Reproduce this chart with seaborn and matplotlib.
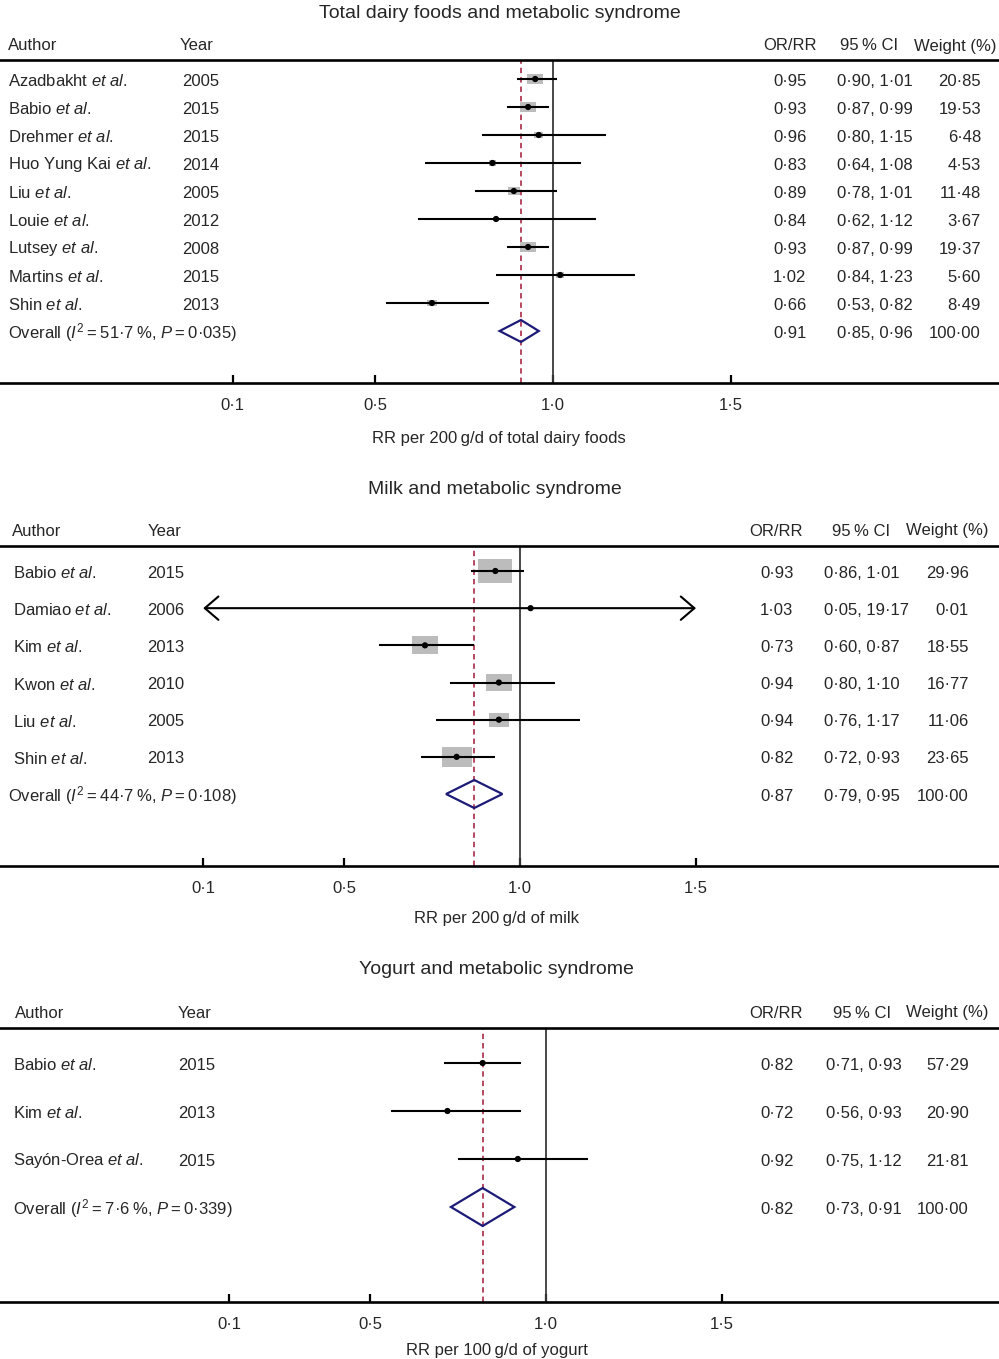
import numpy as np
import matplotlib
matplotlib.use("Agg")
import matplotlib.pyplot as plt
from matplotlib.transforms import blended_transform_factory
import seaborn as sns

# ---------------- data ----------------
p1_title = "Total dairy foods and metabolic syndrome"
p1_xlabel = "RR per 200\u2009g/d of total dairy foods"
p1_authors = ["Azadbakht", "Babio", "Drehmer", "Huo Yung Kai", "Liu", "Louie",
              "Lutsey", "Martins", "Shin"]
p1_years = ["2005", "2015", "2015", "2014", "2005", "2012", "2008", "2015", "2013"]
p1_rr = [0.95, 0.93, 0.96, 0.83, 0.89, 0.84, 0.93, 1.02, 0.66]
p1_lo = [0.90, 0.87, 0.80, 0.64, 0.78, 0.62, 0.87, 0.84, 0.53]
p1_hi = [1.01, 0.99, 1.15, 1.08, 1.01, 1.12, 0.99, 1.23, 0.82]
p1_w = [20.85, 19.53, 6.48, 4.53, 11.48, 3.67, 19.37, 5.60, 8.49]
p1_overall = [0.91, 0.85, 0.96]
p1_i2 = "51·7"
p1_p = "0·035"

p2_title = "Milk and metabolic syndrome"
p2_xlabel = "RR per 200\u2009g/d of milk"
p2_authors = ["Babio", "Damiao", "Kim", "Kwon", "Liu", "Shin"]
p2_years = ["2015", "2006", "2013", "2010", "2005", "2013"]
p2_rr = [0.93, 1.03, 0.73, 0.94, 0.94, 0.82]
p2_lo = [0.86, 0.05, 0.60, 0.80, 0.76, 0.72]
p2_hi = [1.01, 19.17, 0.87, 1.10, 1.17, 0.93]
p2_w = [29.96, 0.01, 18.55, 16.77, 11.06, 23.65]
p2_overall = [0.87, 0.79, 0.95]
p2_i2 = "44·7"
p2_p = "0·108"

p3_title = "Yogurt and metabolic syndrome"
p3_xlabel = "RR per 100\u2009g/d of yogurt"
p3_authors = ["Babio", "Kim", "Sayón-Orea"]
p3_years = ["2015", "2013", "2015"]
p3_rr = [0.82, 0.72, 0.92]
p3_lo = [0.71, 0.56, 0.75]
p3_hi = [0.93, 0.93, 1.12]
p3_w = [57.29, 20.90, 21.81]
p3_overall = [0.82, 0.73, 0.91]
p3_i2 = "7·6"
p3_p = "0·339"

tick_vals = [0.1, 0.5, 1.0, 1.5]
tick_labels = ["0·1", "0·5", "1·0", "1·5"]
headers = ["Author", "Year", "OR/RR", "95\u2009% CI", "Weight (%)"]

# ---------------- style ----------------
sns.set_theme(style="white")
plt.rcParams["font.family"] = ["Liberation Sans", "DejaVu Sans"]
plt.rcParams["mathtext.fontset"] = "custom"
plt.rcParams["mathtext.rm"] = "Liberation Sans"
plt.rcParams["mathtext.it"] = "Liberation Sans:italic"
plt.rcParams["mathtext.bf"] = "Liberation Sans:bold"

W, H = 999, 1359
fig = plt.figure(figsize=(W / 100, H / 100), dpi=100)
FS = 12
DY = 2.0  # small downward nudge of text (pixels)

RED = "#b03a55"
NAVY = "#1c1c78"
GREY = "#bcbcbc"

rect_marker = [(-1, -0.68), (1, -0.68), (1, 0.68), (-1, 0.68), (-1, -0.68)]
THIN = "\u2009"


def fmt(v):
    return f"{v:.2f}".replace(".", "·")


def draw_panel(d, L):
    top, bot = L["top"], L["bot"]
    ax = fig.add_axes([0, 1 - bot / H, 1, (bot - top) / H])
    one, s = L["one_px"], L["px_per_unit"]
    ax.set_xlim(1 - one / s, 1 + (W - one) / s)
    ax.set_ylim(bot, top)
    n = len(d["rr"])
    rows = L["first"] + np.arange(n + 1) * L["step"]
    yr = rows[:n]
    yo = rows[n]

    ax.axvline(1.0, color="#3a3a3a", lw=1.3, zorder=1)
    ax.axvline(d["overall"][0], color=RED, lw=1.3, ls=(0, (3, 2.2)), zorder=1)

    # squares (weights)
    if L["sq"] > 0:
        sns.scatterplot(x=d["rr"], y=yr, ax=ax, marker=rect_marker,
                        s=np.array(d["w"]) * L["sq"], color=GREY,
                        edgecolor="none", linewidth=0, zorder=2, legend=False)

    clip_lo, clip_hi = tick_vals[0], tick_vals[-1]
    for lo, hi, y in zip(d["lo"], d["hi"], yr):
        if lo < clip_lo or hi > clip_hi:
            ax.annotate("", xy=(max(lo, clip_lo), y), xytext=(min(hi, clip_hi), y),
                        arrowprops=dict(arrowstyle="<->,head_length=0.7,head_width=0.6",
                                        lw=1.5, color="black", mutation_scale=14,
                                        shrinkA=0, shrinkB=0), zorder=3)
        else:
            ax.hlines(y, lo, hi, color="black", lw=1.5, zorder=3)

    sns.scatterplot(x=d["rr"], y=yr, ax=ax, color="black", s=20,
                    edgecolor="none", zorder=4, legend=False)

    # diamond
    e, lo, hi = d["overall"]
    h = L["dh"]
    ax.fill([lo, e, hi, e, lo], [yo, yo - h, yo, yo + h, yo],
            facecolor="none", edgecolor=NAVY, lw=1.6, zorder=4)

    tr = blended_transform_factory(ax.transAxes, ax.transData)
    c = L["cols"]
    for i in range(n):
        y = yr[i] + DY
        ax.text(c["author"] / W, y, d["authors"][i] + r" $\mathit{et\ al.}$",
                transform=tr, ha="left", va="center", fontsize=FS)
        ax.text(c["year"] / W, y, d["years"][i], transform=tr, ha="left",
                va="center", fontsize=FS)
        ax.text(c["or"] / W, y, fmt(d["rr"][i]), transform=tr, ha="left",
                va="center", fontsize=FS)
        ax.text(c["ci"] / W, y, fmt(d["lo"][i]) + ", " + fmt(d["hi"][i]),
                transform=tr, ha="left", va="center", fontsize=FS)
        ax.text(c["w"] / W, y, fmt(d["w"][i]), transform=tr, ha="right",
                va="center", fontsize=FS)
    yt = yo + DY
    overall_lbl = (r"Overall ($\mathit{I}^{2}$" + THIN + "=" + THIN + d["i2"] + THIN + "%, "
                   + r"$\mathit{P}$" + THIN + "=" + THIN + d["p"] + ")")
    ax.text(c["overall"] / W, yt, overall_lbl, transform=tr, ha="left",
            va="center", fontsize=FS)
    ax.text(c["or"] / W, yt, fmt(e), transform=tr, ha="left", va="center", fontsize=FS)
    ax.text(c["ci"] / W, yt, fmt(lo) + ", " + fmt(hi), transform=tr, ha="left",
            va="center", fontsize=FS)
    ax.text(c["w"] / W, yt, fmt(100.0), transform=tr, ha="right", va="center", fontsize=FS)

    # header
    hy = L["head_y"] + DY
    hc = L["hcols"]
    has = ["left", "left", "center", "center", "right"]
    for txt, xp, ha in zip(headers, hc, has):
        ax.text(xp / W, hy, txt, transform=tr, ha=ha, va="center", fontsize=FS)

    # axes styling
    for sp in ["left", "right"]:
        ax.spines[sp].set_visible(False)
    for sp in ["top", "bottom"]:
        ax.spines[sp].set_linewidth(1.9)
        ax.spines[sp].set_color("black")
    ax.set_yticks([])
    ax.set_xticks(tick_vals)
    ax.set_xticklabels(tick_labels)
    ax.tick_params(axis="x", direction="in", length=6, width=1.6, color="black",
                   labelsize=FS, pad=11, bottom=True, top=False)
    ax.grid(False)

    fig.text(L["title_x"] / W, 1 - (L["title_y"] + DY) / H, d["title"], ha="center",
             va="center", fontsize=14)
    fig.text(L["xl_x"] / W, 1 - (L["xl_y"] + DY) / H, d["xlabel"], ha="center",
             va="center", fontsize=FS)


P1 = dict(title=p1_title, xlabel=p1_xlabel, authors=p1_authors, years=p1_years,
          rr=p1_rr, lo=p1_lo, hi=p1_hi, w=p1_w, overall=p1_overall, i2=p1_i2, p=p1_p)
P2 = dict(title=p2_title, xlabel=p2_xlabel, authors=p2_authors, years=p2_years,
          rr=p2_rr, lo=p2_lo, hi=p2_hi, w=p2_w, overall=p2_overall, i2=p2_i2, p=p2_p)
P3 = dict(title=p3_title, xlabel=p3_xlabel, authors=p3_authors, years=p3_years,
          rr=p3_rr, lo=p3_lo, hi=p3_hi, w=p3_w, overall=p3_overall, i2=p3_i2, p=p3_p)

L1 = dict(top=60, bot=383, one_px=553, px_per_unit=356, first=79, step=28, dh=11,
          sq=6.4, head_y=44, title_x=500, title_y=11, xl_x=499, xl_y=436,
          cols={"author": 8, "year": 182, "overall": 8, "or": 773, "ci": 837, "w": 981},
          hcols=[8, 180, 790, 869, 997])
L2 = dict(top=546, bot=866, one_px=520, px_per_unit=352, first=571, step=37.17, dh=14,
          sq=20, head_y=529, title_x=495, title_y=488, xl_x=496, xl_y=916,
          cols={"author": 13, "year": 147, "overall": 8, "or": 760, "ci": 824, "w": 969},
          hcols=[12, 148, 776, 861, 989])
L3 = dict(top=1028, bot=1302, one_px=546, px_per_unit=352, first=1063, step=48, dh=19,
          sq=0, head_y=1011, title_x=496, title_y=968, xl_x=497, xl_y=1349,
          cols={"author": 13, "year": 178, "overall": 13, "or": 760, "ci": 826, "w": 969},
          hcols=[15, 178, 776, 862, 989])

for d, L in [(P1, L1), (P2, L2), (P3, L3)]:
    draw_panel(d, L)

fig.savefig("out.png", dpi=100)
